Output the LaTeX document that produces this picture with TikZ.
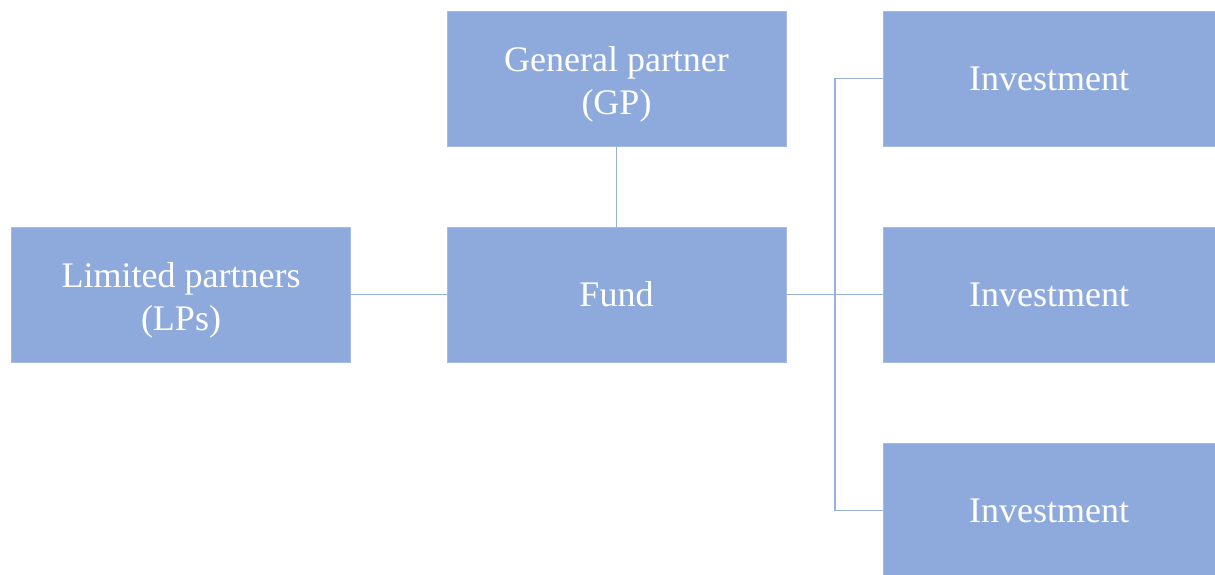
\documentclass[tikz,border=0pt]{standalone}
\usepackage{fontspec}
\setmainfont{Liberation Serif}
\definecolor{boxblue}{HTML}{8EAADC}
\definecolor{lineblue}{HTML}{97B0DE}
\newcommand{\lowstrut}{\rule{0pt}{36pt}}
\begin{document}
\begin{tikzpicture}[x=1pt,y=-1pt,
  entity/.style={rectangle, fill=boxblue, draw=boxblue!80!white, line width=0.6pt,
    text=white, align=center, inner sep=0pt,
    minimum height=135pt, font=\fontsize{36}{43}\selectfont},
  wide/.style={minimum width=339pt},
  narrow/.style={minimum width=332pt},
  link/.style={draw=lineblue, line width=1.6pt}]
\useasboundingbox (0,0) rectangle (1215,574);
\node[entity, wide] (gp) at (616.5,78.5) {\lowstrut General partner\\(GP)};
\node[entity, wide] (lp) at (181,294.5) {\lowstrut Limited partners\\(LPs)};
\node[entity, wide] (fund) at (616.5,294.5) {Fund};
\node[entity, narrow] (inv1) at (1049,78.5) {Investment};
\node[entity, narrow] (inv2) at (1049,294.5) {Investment};
\node[entity, narrow] (inv3) at (1049,510.5) {Investment};
\coordinate (bus) at (835,294.5);
\draw[link] (gp.south) -- (fund.north);
\draw[link] (lp.east) -- (fund.west);
\draw[link] (fund.east) -- (inv2.west);
\draw[link] (inv1.west) -- (inv1.west -| bus) -- (inv3.west -| bus) -- (inv3.west);
\end{tikzpicture}
\end{document}
